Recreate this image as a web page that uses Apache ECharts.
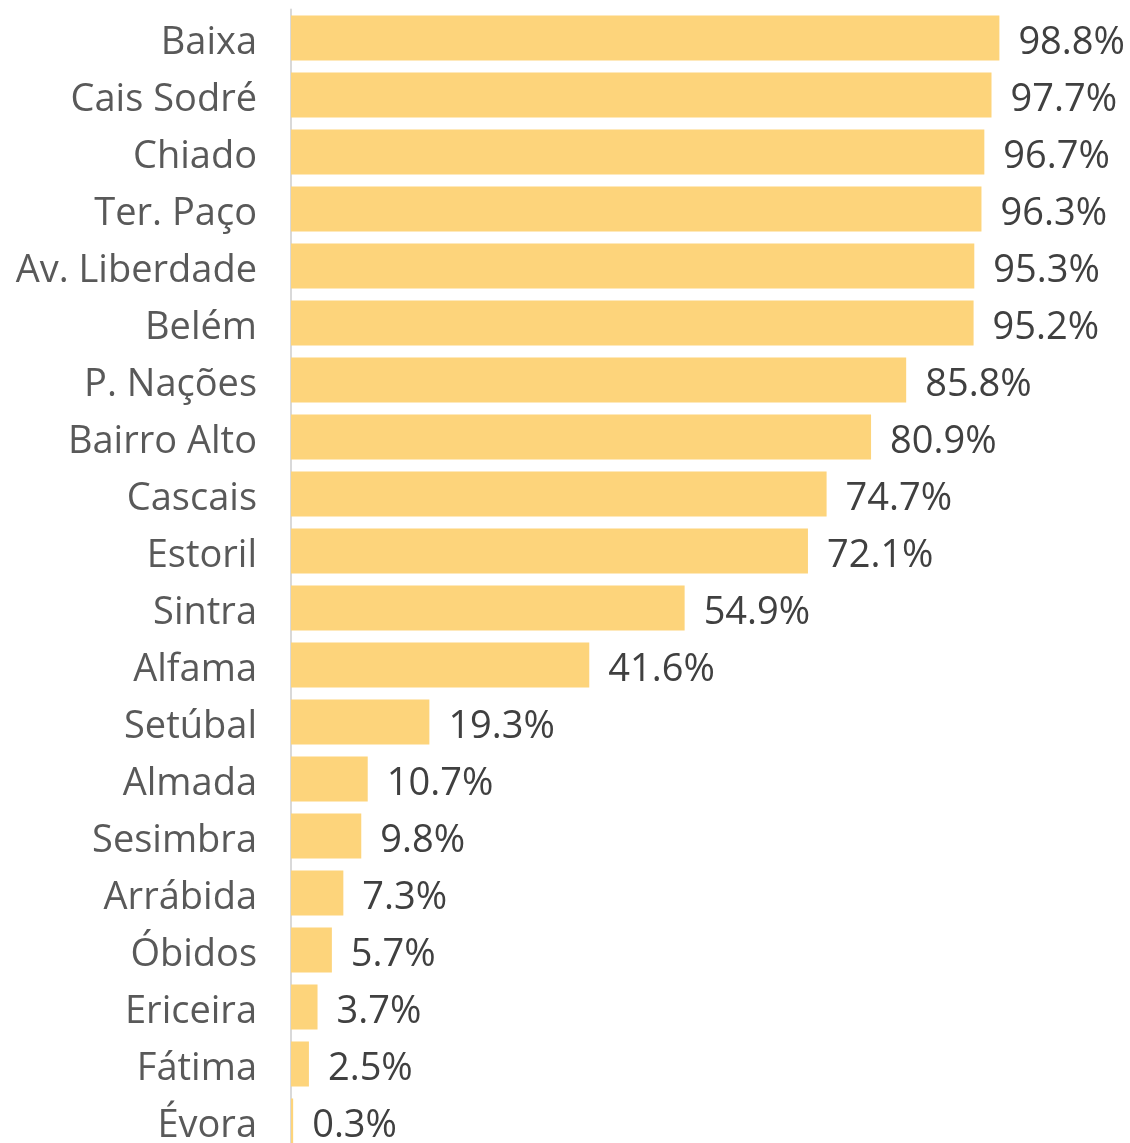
<!DOCTYPE html>
<html>
<head>
<meta charset="utf-8">
<script src="https://cdn.jsdelivr.net/npm/echarts@6/dist/echarts.min.js"></script>
<style>
  html, body { margin: 0; padding: 0; background: #fff; }
  #chart { width: 1130px; height: 1143px; }
</style>
</head>
<body>
<div id="chart"></div>
<script>
const places = ["Baixa", "Cais Sodré", "Chiado", "Ter. Paço", "Av. Liberdade", "Belém", "P. Nações",
  "Bairro Alto", "Cascais", "Estoril", "Sintra", "Alfama", "Setúbal", "Almada", "Sesimbra",
  "Arrábida", "Óbidos", "Ericeira", "Fátima", "Évora"];
const shares = [98.8, 97.7, 96.7, 96.3, 95.3, 95.2, 85.8, 80.9, 74.7, 72.1, 54.9, 41.6, 19.3, 10.7, 9.8,
  7.3, 5.7, 3.7, 2.5, 0.3];

const chart = echarts.init(document.getElementById("chart"));
chart.setOption({
  animation: false,
  grid: { left: 291, right: 122, top: 9.5, height: 1140, outerBoundsMode: "none" },
  xAxis: {
    type: "value",
    min: 0,
    max: 100,
    show: false
  },
  yAxis: {
    type: "category",
    inverse: true,
    data: places,
    axisTick: { show: false },
    axisLine: { lineStyle: { color: "#d9d9d9", width: 2 } },
    axisLabel: {
      margin: 34,
      fontFamily: "Open Sans",
      fontSize: 38,
      color: "#595959",
      verticalAlign: "top",
      lineHeight: 10
    }
  },
  series: [
    {
      type: "bar",
      data: shares,
      barCategoryGap: "21%",
      itemStyle: { color: "#fdd47b" },
      label: {
        show: true,
        position: "right",
        distance: 19,
        fontFamily: "Open Sans",
        fontSize: 38,
        color: "#404040",
        verticalAlign: "top",
        lineHeight: 10,
        formatter: p => p.value.toFixed(1) + "%"
      }
    }
  ]
});
</script>
</body>
</html>
